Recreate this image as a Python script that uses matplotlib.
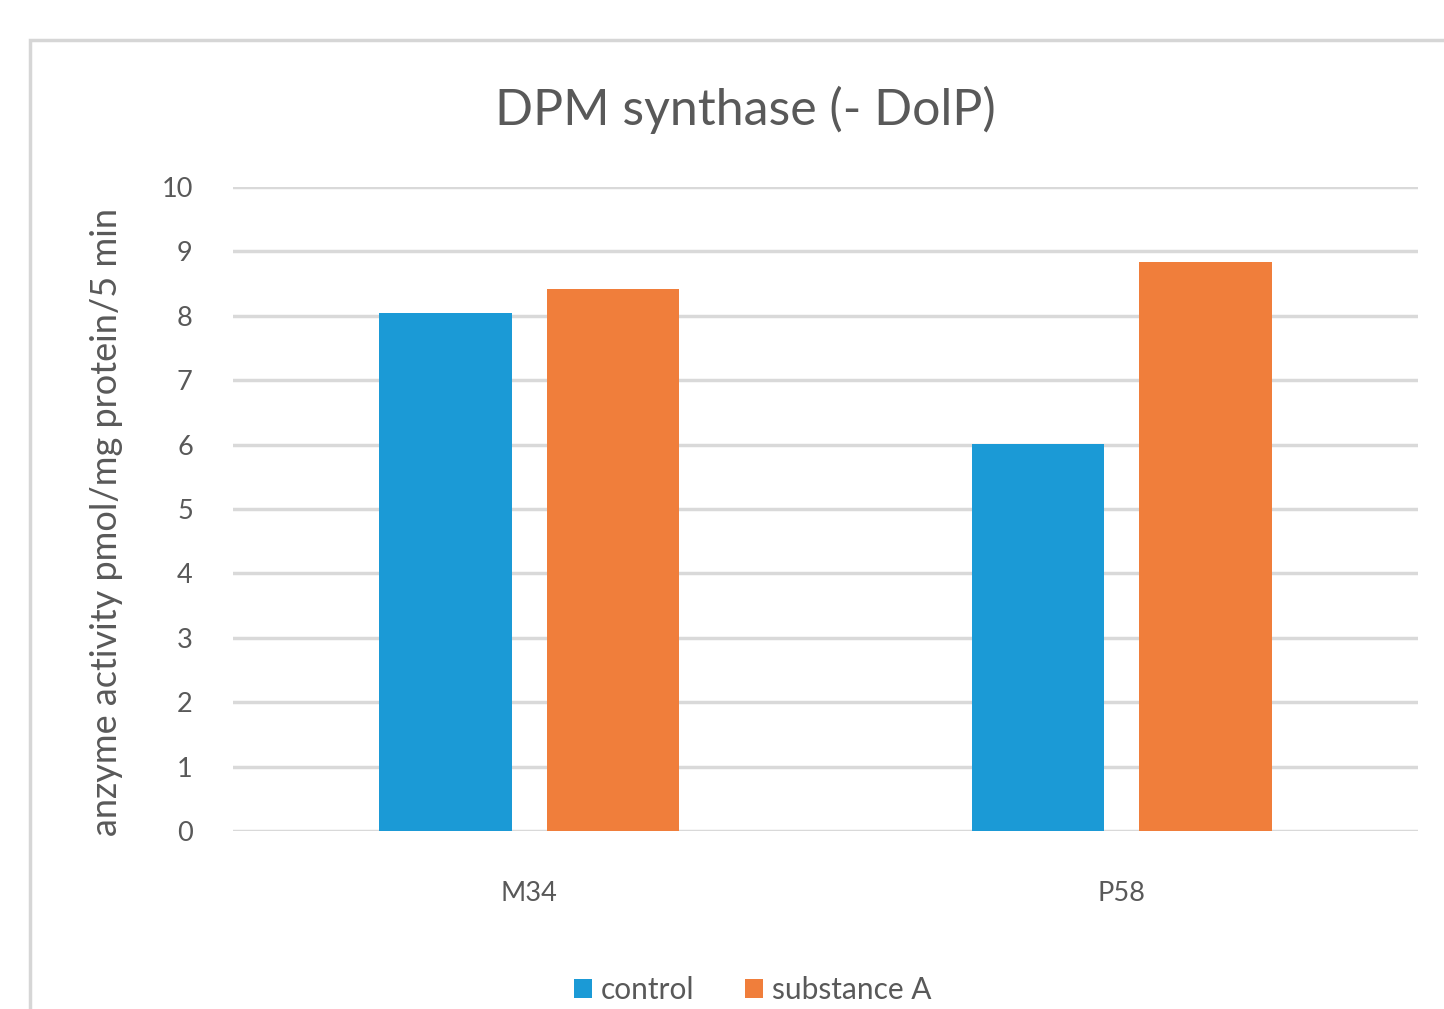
import matplotlib
matplotlib.use("Agg")
import matplotlib.pyplot as plt
from matplotlib.patches import Rectangle
import numpy as np

# values
groups = ["M34", "P58"]
control = [8.05, 6.01]
substance_a = [8.42, 8.84]
series_names = ["control", "substance A"]
y_ticks = [0, 1, 2, 3, 4, 5, 6, 7, 8, 9, 10]

BLUE = "#1b9ad6"
ORANGE = "#f07e3b"
GRID = "#d9d9d9"
TEXT = "#595959"

plt.rcParams["font.family"] = ["Lato", "DejaVu Sans"]


def draw():
    fig = plt.figure(figsize=(14.44, 10.09), dpi=100)
    ax = fig.add_axes([0.1614, 0.1764, 0.8206, 0.6383])

    # chart frame like the Excel chart area
    fig.patches.append(Rectangle((30 / 1444, -0.05), 1.1, 1.05 - 40 / 1009,
                                 transform=fig.transFigure, fill=False,
                                 edgecolor="#d6d6d6", linewidth=2.5))

    x = np.arange(len(groups))
    width = 0.224
    gap = 0.059
    off = (width + gap) / 2
    ax.bar(x - off, control, width, color=BLUE, label=series_names[0], zorder=3)
    ax.bar(x + off, substance_a, width, color=ORANGE, label=series_names[1], zorder=3)

    ax.set_xlim(-0.5, len(groups) - 0.5)
    ax.set_ylim(0, 10)
    ax.set_yticks(y_ticks)
    ax.set_xticks(x)
    ax.set_xticklabels(groups)
    ax.yaxis.grid(True, color=GRID, linewidth=2.5, zorder=0)
    ax.set_axisbelow(True)
    for s in ax.spines.values():
        s.set_visible(False)
    ax.tick_params(axis="y", length=0, pad=29, labelsize=19.5, labelcolor=TEXT)
    ax.tick_params(axis="x", length=0, pad=36, labelsize=19.5, labelcolor=TEXT)

    ax.set_ylabel("anzyme activity pmol/mg protein/5 min", fontsize=26,
                  color=TEXT)
    ax.yaxis.set_label_coords(-0.093, 0.48)
    fig.text(745 / 1444, 1 - 110 / 1009, "DPM synthase (- DolP)", ha="center",
             va="center", fontsize=36, color=TEXT)

    fig.legend(loc="center", bbox_to_anchor=(753 / 1444, 1 - 990 / 1009), ncol=2,
               frameon=False, fontsize=21.5, labelcolor=TEXT, handlelength=0.6,
               handleheight=0.6, handletextpad=0.3, columnspacing=1.7)

    fig.savefig("out.png", dpi=100, facecolor="white")


if __name__ == "__main__":
    draw()
